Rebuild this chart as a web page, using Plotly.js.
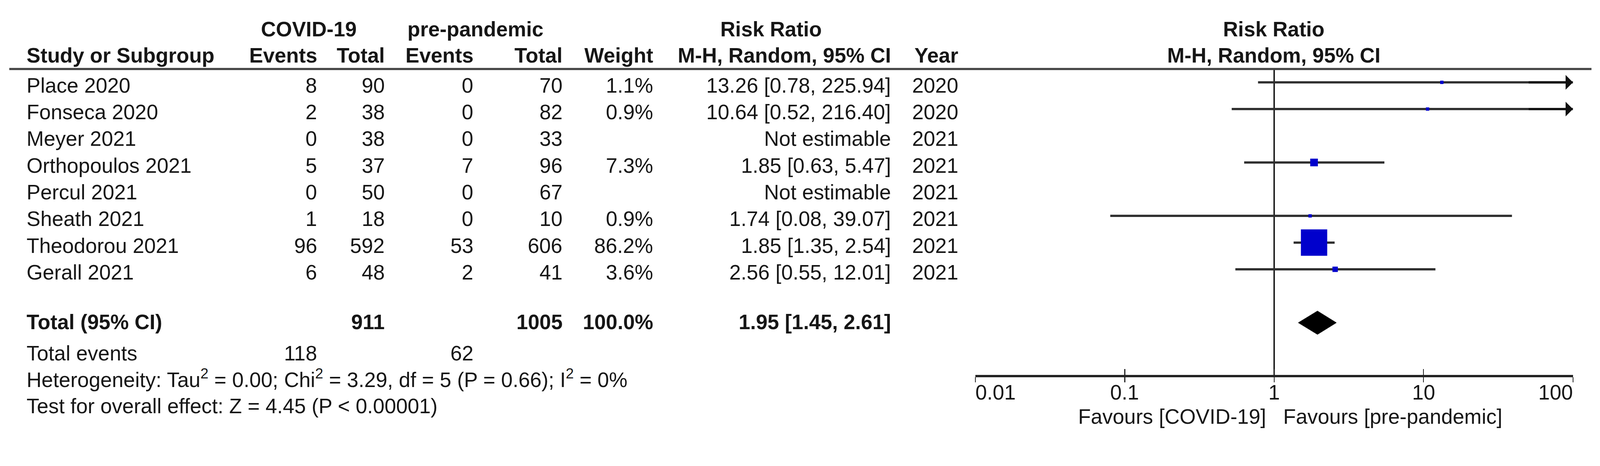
<!DOCTYPE html>
<html><head><meta charset="utf-8">
<script src="https://cdn.plot.ly/plotly-3.0.1.min.js"></script>
<style>html,body{margin:0;padding:0;background:#fff;overflow:hidden}#chart{width:100vw}</style>
</head><body><div id="chart"></div>
<script>
// ---------------- data ----------------
const studies = ['Place 2020','Fonseca 2020','Meyer 2021','Orthopoulos 2021','Percul 2021','Sheath 2021','Theodorou 2021','Gerall 2021'];
const covidEvents = [8, 2, 0, 5, 0, 1, 96, 6];
const covidTotal = [90, 38, 38, 37, 50, 18, 592, 48];
const preEvents = [0, 0, 0, 7, 0, 0, 53, 2];
const preTotal = [70, 82, 33, 96, 67, 10, 606, 41];
const weights = [1.1, 0.9, null, 7.3, null, 0.9, 86.2, 3.6];
const riskRatio = [13.26, 10.64, null, 1.85, null, 1.74, 1.85, 2.56];
const ciLow = [0.78, 0.52, null, 0.63, null, 0.08, 1.35, 0.55];
const ciHigh = [225.94, 216.40, null, 5.47, null, 39.07, 2.54, 12.01];
const years = [2020, 2020, 2021, 2021, 2021, 2021, 2021, 2021];

const totalCovid = 911, totalPre = 1005, totalWeight = 100.0;
const totalRR = 1.95, totalLow = 1.45, totalHigh = 2.61;
const totalEventsCovid = 118, totalEventsPre = 62;
const heterogeneityText = 'Heterogeneity: Tau<sup>2</sup> = 0.00; Chi<sup>2</sup> = 3.29, df = 5 (P = 0.66); I<sup>2</sup> = 0%';
const overallText = 'Test for overall effect: Z = 4.45 (P < 0.00001)';
const tickVals = [0.01, 0.1, 1, 10, 100];
const tickLabels = ['0.01', '0.1', '1', '10', '100'];
const favoursLeft = 'Favours [COVID-19]';
const favoursRight = 'Favours [pre-pandemic]';

// ---------------- layout helpers ----------------
// positions are expressed in a 4316 x 1192 reference frame and converted to paper fractions
const W = 4316, H = 1192;
const VW = document.documentElement.clientWidth || window.innerWidth || W;
const S = VW / W;
const VH = Math.round(H * S);
document.getElementById('chart').style.height = VH + 'px';
const FONT = 'Liberation Sans, Arial, sans-serif';
const FS = 56 * S;
const TXT = '#161616';
const ROW0 = 222, ROWH = 72;          // reference pixel of row 0 and row pitch
const yTop = -ROW0 / ROWH, yBot = (H - ROW0) / ROWH;
const TOTAL_ROW = 9, AXIS_ROW = 11;
const px = x => x / W;
const py = y => 1 - y / H;

const ann = [];
function ptxt(text, x, y, anchor, bold) {
  ann.push({text: bold ? '<b>' + text + '</b>' : text, xref: 'paper', yref: 'paper',
    x: px(x), y: py(y), xanchor: anchor, yanchor: 'middle', showarrow: false, borderpad: 0, borderwidth: 0,
    font: {family: FONT, size: FS, color: TXT}});
}
function rtxt(text, x, row, anchor, bold) {
  ann.push({text: bold ? '<b>' + text + '</b>' : text, xref: 'paper', yref: 'y',
    x: px(x), y: row + 8 / ROWH, xanchor: anchor, yanchor: 'middle', showarrow: false, borderpad: 0, borderwidth: 0,
    font: {family: FONT, size: FS, color: TXT}});
}

// column edges (reference px)
const C = {name: 72, ev1: 856, tot1: 1038, ev2: 1277, tot2: 1517, wt: 1762, ci: 2403, yr: 2585};

// headers
ptxt('COVID-19', 833, 79, 'center', true);
ptxt('pre-pandemic', 1282, 79, 'center', true);
ptxt('Risk Ratio', 2080, 79, 'center', true);
ptxt('Risk Ratio', 3436, 79, 'center', true);
ptxt('Study or Subgroup', C.name, 149, 'left', true);
ptxt('Events', C.ev1, 149, 'right', true);
ptxt('Total', C.tot1, 149, 'right', true);
ptxt('Events', C.ev2, 149, 'right', true);
ptxt('Total', C.tot2, 149, 'right', true);
ptxt('Weight', C.wt, 149, 'right', true);
ptxt('M-H, Random, 95% CI', C.ci, 149, 'right', true);
ptxt('Year', C.yr, 149, 'right', true);
ptxt('M-H, Random, 95% CI', 3436, 149, 'center', true);

// study rows
studies.forEach((s, i) => {
  rtxt(s, C.name, i, 'left');
  rtxt(String(covidEvents[i]), C.ev1, i, 'right');
  rtxt(String(covidTotal[i]), C.tot1, i, 'right');
  rtxt(String(preEvents[i]), C.ev2, i, 'right');
  rtxt(String(preTotal[i]), C.tot2, i, 'right');
  if (weights[i] !== null) rtxt(weights[i].toFixed(1) + '%', C.wt, i, 'right');
  const ci = riskRatio[i] === null ? 'Not estimable' :
    riskRatio[i].toFixed(2) + ' [' + ciLow[i].toFixed(2) + ', ' + ciHigh[i].toFixed(2) + ']';
  rtxt(ci, C.ci, i, 'right');
  rtxt(String(years[i]), C.yr, i, 'right');
});

// totals
ptxt('Total (95% CI)', C.name, 868, 'left', true);
ptxt(String(totalCovid), C.tot1, 868, 'right', true);
ptxt(String(totalPre), C.tot2, 868, 'right', true);
ptxt(totalWeight.toFixed(1) + '%', C.wt, 868, 'right', true);
ptxt(totalRR.toFixed(2) + ' [' + totalLow.toFixed(2) + ', ' + totalHigh.toFixed(2) + ']', C.ci, 868, 'right', true);
ptxt('Total events', C.name, 952, 'left');
ptxt(String(totalEventsCovid), C.ev1, 952, 'right');
ptxt(String(totalEventsPre), C.ev2, 952, 'right');
ptxt(heterogeneityText, C.name, 1020, 'left');
ptxt(overallText, C.name, 1095, 'left');

// axis tick labels & favours labels
tickVals.forEach((v, k) => {
  ann.push({text: tickLabels[k], xref: 'x', yref: 'paper', x: Math.log10(v), y: py(1058),
    xanchor: k === 0 ? 'left' : (k === tickVals.length - 1 ? 'right' : 'center'), yanchor: 'middle',
    showarrow: false, borderpad: 0, borderwidth: 0, font: {family: FONT, size: FS, color: TXT}});
});
ptxt(favoursLeft, 3415, 1123, 'right');
ptxt(favoursRight, 3461, 1123, 'left');

// ---------------- traces ----------------
const traces = [];
// line of no effect
traces.push({x: [1, 1], y: [-0.51, AXIS_ROW], mode: 'lines', line: {color: '#000', width: 3.5 * S}, hoverinfo: 'skip', showlegend: false});
// confidence intervals
const xmax = tickVals[tickVals.length - 1];
riskRatio.forEach((r, i) => {
  if (r === null) return;
  traces.push({x: [ciLow[i], ciHigh[i]], y: [i, i], mode: 'lines', line: {color: '#2e2e2e', width: 6 * S},
    hoverinfo: 'skip', showlegend: false});
  if (ciHigh[i] > xmax) {
    ann.push({text: '', xref: 'x', yref: 'y', axref: 'x', ayref: 'y', x: Math.log10(xmax), y: i,
      ax: Math.log10(xmax) - 0.3, ay: i, showarrow: true, arrowhead: 1, arrowwidth: 6 * S, arrowsize: 1.1,
      arrowcolor: '#111'});
  }
});
// point estimates (square side ~ sqrt(weight))
const idx = riskRatio.map((r, i) => r === null ? -1 : i).filter(i => i >= 0);
const maxW = Math.max(...idx.map(i => weights[i]));
traces.push({x: idx.map(i => riskRatio[i]), y: idx, mode: 'markers',
  marker: {symbol: 'square', color: '#0000cc', opacity: 1,
    size: idx.map(i => Math.max(9, Math.sqrt(weights[i] / maxW) * 71) * S), line: {width: 0}},
  hoverinfo: 'skip', showlegend: false});
// pooled diamond
const dh = 0.44;
traces.push({x: [totalLow, totalRR, totalHigh, totalRR, totalLow], y: [TOTAL_ROW, TOTAL_ROW - dh, TOTAL_ROW, TOTAL_ROW + dh, TOTAL_ROW],
  mode: 'lines', fill: 'toself', fillcolor: '#000', line: {color: '#000', width: 1}, hoverinfo: 'skip', showlegend: false});
// helper trace for the overlay axis (upward ticks)
traces.push({x: [1], y: [0], xaxis: 'x2', yaxis: 'y', mode: 'markers', marker: {opacity: 0}, hoverinfo: 'skip', showlegend: false});

const xdom = [px(2631), px(4243)];
const axPos = py(1013);
const layout = {
  width: VW, height: VH, margin: {l: 0, r: 0, t: 0, b: 0, pad: 0},
  paper_bgcolor: '#fff', plot_bgcolor: 'rgba(0,0,0,0)', showlegend: false,
  xaxis: {type: 'log', range: [-2, 2], domain: xdom, anchor: 'free', position: axPos,
    showline: true, linewidth: 6 * S, linecolor: '#222', ticks: 'outside', ticklen: 14 * S, tickwidth: 2.5 * S, tickcolor: '#222',
    tickvals: tickVals, showticklabels: false, showgrid: false, zeroline: false, fixedrange: true},
  xaxis2: {type: 'log', range: [-2, 2], domain: xdom, overlaying: 'x', anchor: 'free', position: axPos, side: 'bottom',
    showline: false, ticks: 'inside', ticklen: 18 * S, tickwidth: 2.5 * S, tickcolor: '#222',
    tickvals: tickVals, showticklabels: false, showgrid: false, zeroline: false, fixedrange: true},
  yaxis: {range: [yBot, yTop], domain: [0, 1], visible: false, showgrid: false, zeroline: false, fixedrange: true},
  annotations: ann,
  shapes: [{type: 'line', xref: 'paper', yref: 'paper', x0: px(25), x1: px(4293), y0: py(186), y1: py(186),
    line: {color: '#444', width: 6 * S}}]
};
Plotly.newPlot('chart', traces, layout, {displayModeBar: false, staticPlot: true});
</script></body></html>
